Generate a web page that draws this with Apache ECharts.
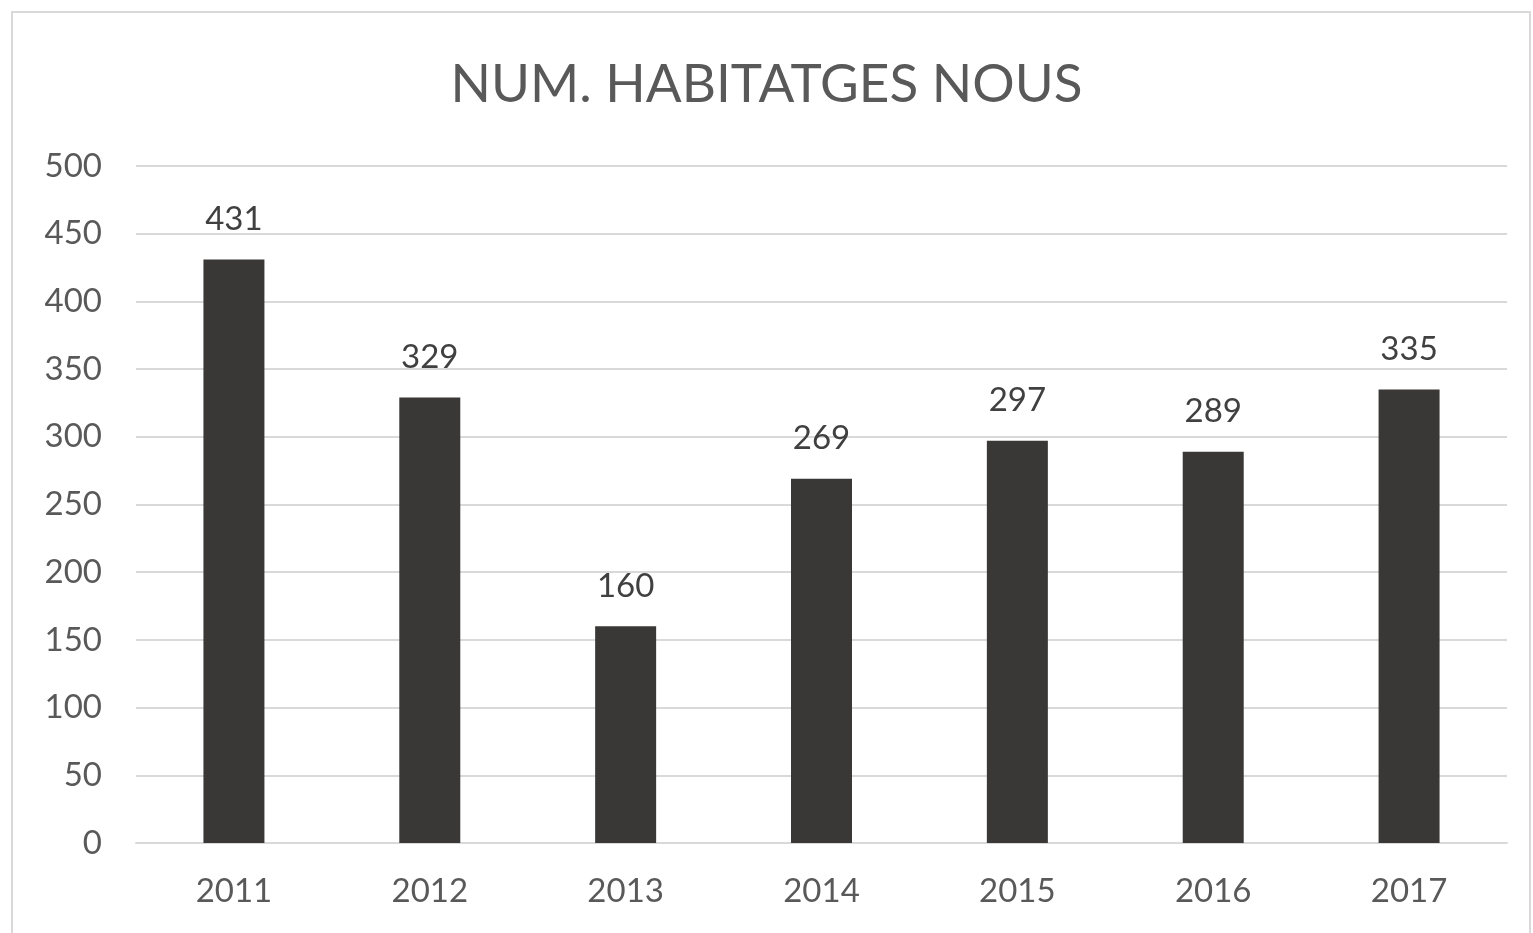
<!DOCTYPE html>
<html>
<head>
<meta charset="utf-8">
<script src="https://cdn.jsdelivr.net/npm/echarts@6/dist/echarts.min.js"></script>
<style>
  html, body { margin: 0; padding: 0; background: #fff; }
  #chart { width: 1533px; height: 933px; }
</style>
</head>
<body>
<div id="chart"></div>
<script>
const years = ['2011', '2012', '2013', '2014', '2015', '2016', '2017'];
const habitatges = [431, 329, 160, 269, 297, 289, 335];

const chart = echarts.init(document.getElementById('chart'));
const font = 'Lato, "Open Sans", sans-serif';

chart.setOption({
  animation: false,
  backgroundColor: '#fff',
  graphic: [{
    type: 'rect',
    shape: { x: 12, y: 12, width: 1518, height: 960 },
    style: { fill: 'none', stroke: '#d9d9d9', lineWidth: 2 },
    silent: true
  }],
  title: {
    text: 'NUM. HABITATGES NOUS',
    left: 'center',
    top: 53,
    textStyle: { fontFamily: font, fontSize: 53, fontWeight: 'normal', color: '#595959' }
  },
  grid: { left: 136, right: 26, top: 166, bottom: 90 },
  xAxis: {
    type: 'category',
    data: years,
    axisLine: { lineStyle: { color: '#d9d9d9', width: 2 } },
    axisTick: { show: false },
    axisLabel: { fontFamily: font, fontSize: 33, color: '#595959', margin: 32 }
  },
  yAxis: {
    type: 'value',
    min: 0,
    max: 500,
    interval: 50,
    axisLine: { show: false },
    axisTick: { show: false },
    splitLine: { lineStyle: { color: '#d9d9d9', width: 2 } },
    axisLabel: { fontFamily: font, fontSize: 33, color: '#595959', margin: 34 }
  },
  series: [{
    type: 'bar',
    data: habitatges,
    barWidth: 61,
    itemStyle: { color: '#3a3836' },
    label: {
      show: true,
      position: 'top',
      distance: 24,
      fontFamily: font,
      fontSize: 33,
      color: '#404040'
    }
  }]
});
</script>
</body>
</html>
